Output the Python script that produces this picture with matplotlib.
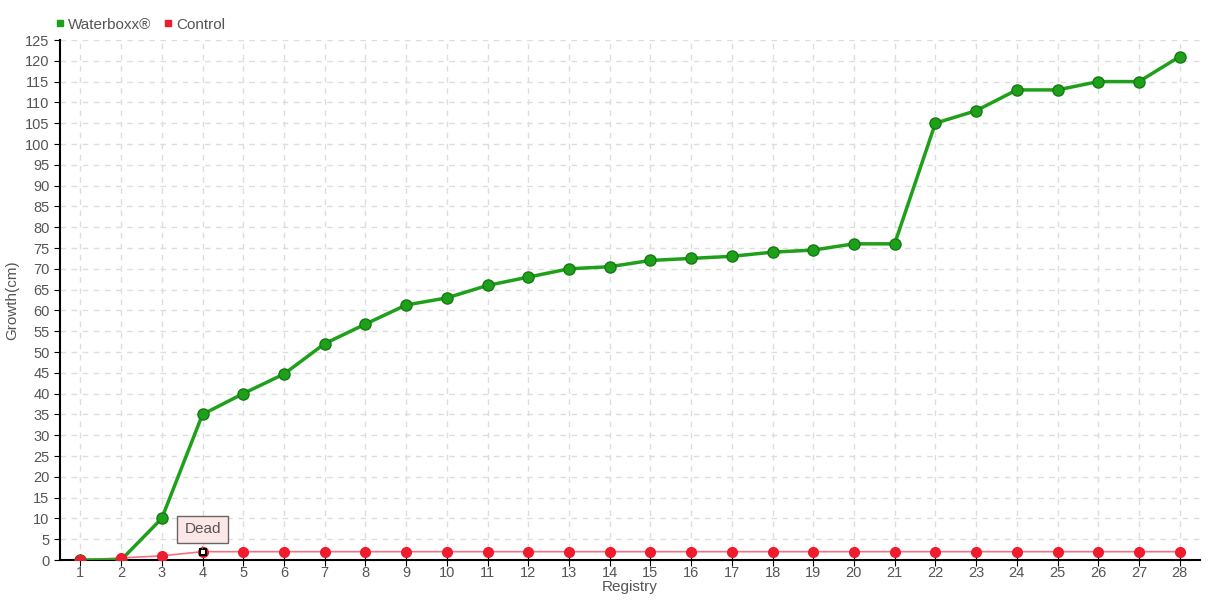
import numpy as np
import matplotlib.pyplot as plt

# data
registry = list(range(1, 29))
waterboxx = [0, 0, 10, 35, 40, 44.7, 52, 56.7, 61.3, 63, 66, 68, 70, 70.5,
             72, 72.5, 73, 74, 74.5, 76, 76, 105, 108, 113, 113, 115, 115, 121]
control = [0, 0.5, 1, 2, 2, 2, 2, 2, 2, 2, 2, 2, 2, 2,
           2, 2, 2, 2, 2, 2, 2, 2, 2, 2, 2, 2, 2, 2]
dead_index = 3  # registry 4

plt.rcParams['font.family'] = ['Liberation Sans', 'DejaVu Sans']

txt = '#555555'
green = '#1ea01a'
red = '#ee1c2e'

fig = plt.figure(figsize=(12.2, 6), dpi=100)
ax = fig.add_axes([60 / 1220, 40 / 600, 1140 / 1220, 520 / 600])

ax.plot(registry, control, color='#f47080', lw=1.2, zorder=2)
ax.plot(registry, waterboxx, color=green, lw=2.5, zorder=3)
ax.plot(registry, waterboxx, 'o', color=green, ms=8, mec='#157a12', mew=1, zorder=4)
ax.plot(registry, control, 'o', color=red, ms=7, mec=red, zorder=5)
ax.plot(registry[dead_index], control[dead_index], 's', color='white',
        mec='black', ms=5, mew=1.5, zorder=6)

ax.annotate('Dead', xy=(registry[dead_index], control[dead_index]),
            xytext=(0, 16), textcoords='offset points', ha='center', va='center',
            fontsize=11, color=txt,
            bbox=dict(boxstyle='square,pad=0.45', fc='#fde6e6', ec='#666666', lw=1),
            arrowprops=dict(arrowstyle='-', color='#666666', lw=0.8), zorder=7)

ax.set_xlim(0.5, 28.5)
ax.set_ylim(0, 125)
ax.set_xticks(registry)
ax.set_yticks(np.arange(0, 126, 5))
ax.tick_params(axis='both', labelsize=10.5, labelcolor=txt, color='black', length=4)
ax.tick_params(axis='x', direction='inout', length=8, pad=0)
ax.grid(True, color='#dddddd', ls=(0, (4, 4)), lw=1)
for s in ['top', 'right']:
    ax.spines[s].set_visible(False)
for s in ['left', 'bottom']:
    ax.spines[s].set_color('black')
    ax.spines[s].set_linewidth(1.5)

ax.set_xlabel('Registry', fontsize=11, color=txt, labelpad=0)
ax.set_ylabel('Growth(cm)', fontsize=11, color=txt, va='center')
ax.yaxis.set_label_coords(-0.042, 0.5)

h1 = plt.Line2D([], [], marker='s', color=green, ls='', ms=5)
h2 = plt.Line2D([], [], marker='s', color=red, ls='', ms=5)
fig.legend([h1, h2], ['Waterboxx®', 'Control'], loc='upper left',
           bbox_to_anchor=(42 / 1220, 1 - 4 / 600), ncol=2, frameon=False,
           fontsize=11, labelcolor=txt, handlelength=0.6, handletextpad=0.2,
           columnspacing=0.8)

fig.savefig('out.png', dpi=100)
